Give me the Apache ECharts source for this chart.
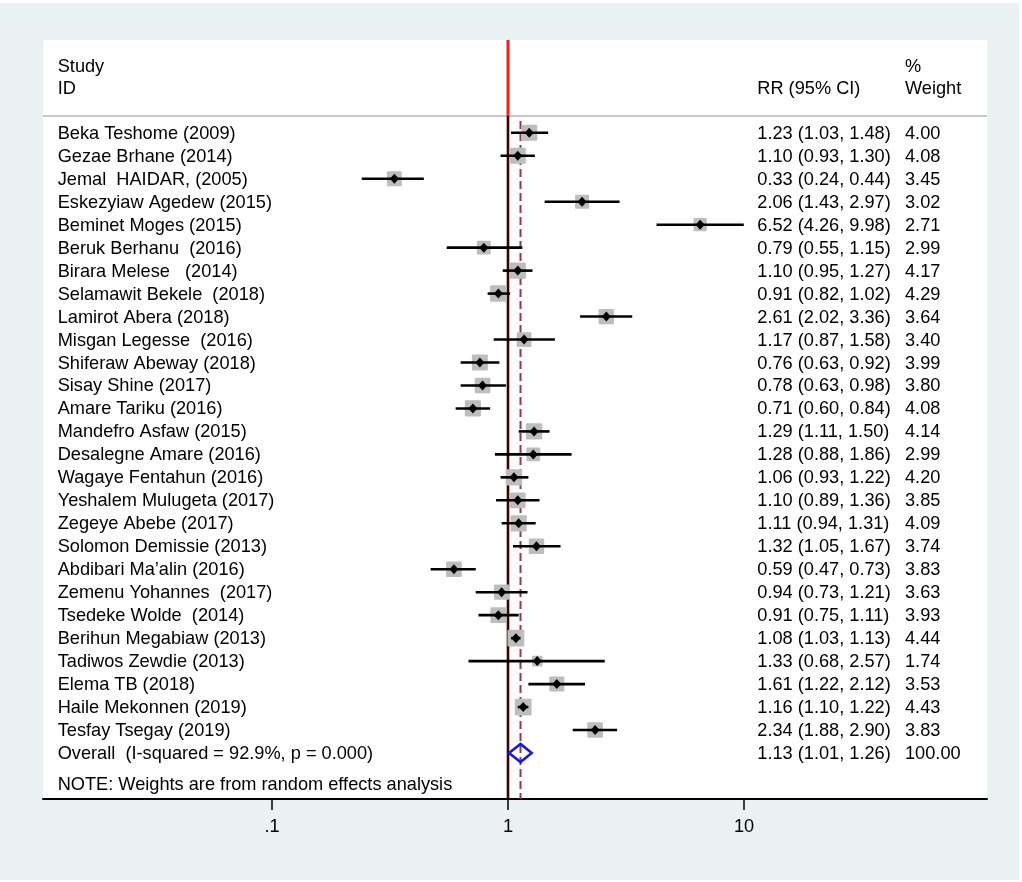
<!DOCTYPE html>
<html>
<head>
<meta charset="utf-8">
<script src="https://cdn.jsdelivr.net/npm/echarts@6/dist/echarts.min.js"></script>
<style>
html,body{margin:0;padding:0;background:#ffffff;}
#c{position:absolute;left:0;top:3px;width:1019px;height:877px;background:#e9f1f3;}
</style>
</head>
<body>
<div id="c"></div>
<script>
// ---------------- data ----------------
const studyNames = [
  "Beka Teshome (2009)",
  "Gezae Brhane (2014)",
  "Jemal  HAIDAR, (2005)",
  "Eskezyiaw Agedew (2015)",
  "Beminet Moges (2015)",
  "Beruk Berhanu  (2016)",
  "Birara Melese   (2014)",
  "Selamawit Bekele  (2018)",
  "Lamirot Abera (2018)",
  "Misgan Legesse  (2016)",
  "Shiferaw Abeway (2018)",
  "Sisay Shine (2017)",
  "Amare Tariku (2016)",
  "Mandefro Asfaw (2015)",
  "Desalegne Amare (2016)",
  "Wagaye Fentahun (2016)",
  "Yeshalem Mulugeta (2017)",
  "Zegeye Abebe (2017)",
  "Solomon Demissie (2013)",
  "Abdibari Ma\u2019alin (2016)",
  "Zemenu Yohannes  (2017)",
  "Tsedeke Wolde  (2014)",
  "Berihun Megabiaw (2013)",
  "Tadiwos Zewdie (2013)",
  "Elema TB (2018)",
  "Haile Mekonnen (2019)",
  "Tesfay Tsegay (2019)"
];
const rrValues = [1.23,1.10,0.33,2.06,6.52,0.79,1.10,0.91,2.61,1.17,0.76,0.78,0.71,1.29,1.28,1.06,1.10,1.11,1.32,0.59,0.94,0.91,1.08,1.33,1.61,1.16,2.34];
const ciLower  = [1.03,0.93,0.24,1.43,4.26,0.55,0.95,0.82,2.02,0.87,0.63,0.63,0.60,1.11,0.88,0.93,0.89,0.94,1.05,0.47,0.73,0.75,1.03,0.68,1.22,1.10,1.88];
const ciUpper  = [1.48,1.30,0.44,2.97,9.98,1.15,1.27,1.02,3.36,1.58,0.92,0.98,0.84,1.50,1.86,1.22,1.36,1.31,1.67,0.73,1.21,1.11,1.13,2.57,2.12,1.22,2.90];
const weightPct = [4.00,4.08,3.45,3.02,2.71,2.99,4.17,4.29,3.64,3.40,3.99,3.80,4.08,4.14,2.99,4.20,3.85,4.09,3.74,3.83,3.63,3.93,4.44,1.74,3.53,4.43,3.83];

const overallLabel = "Overall  (I-squared = 92.9%, p = 0.000)";
const overallValues = [1.13, 1.01, 1.26];   // RR, lower, upper
const overallWeight = 100.00;

const tickValues = [0.1, 1, 10];
const tickLabels = [".1", "1", "10"];

const headerStudy = ["Study", "ID"];
const headerRR = "RR (95% CI)";
const headerWeight = ["%", "Weight"];
const noteText = "NOTE: Weights are from random effects analysis";

// ---------------- helpers ----------------
const FONT = '"Liberation Sans", Arial, Helvetica, sans-serif';
const FS = 18.2;
const lg = v => Math.log10(v);
const fmt = v => v.toFixed(2);
function txt(x, y, s) {
  return {type:'text', x:x, y:y, silent:true,
    style:{text:s, fill:'#000', fontSize:FS, fontFamily:FONT, align:'left', verticalAlign:'middle'}};
}
const COL_NAME = 14.7, COL_RR = 714.3, COL_W = 862;

const studyData = rrValues.map((v, i) => [lg(v), i, lg(ciLower[i]), lg(ciUpper[i]), weightPct[i]]);
const overallRow = studyNames.length;
const overallData = [[lg(overallValues[0]), overallRow, lg(overallValues[1]), lg(overallValues[2])]];

function renderStudy(params, api) {
  const i = params.dataIndex;
  const cs = params.coordSys;
  const y = api.coord([0, api.value(1)])[1];
  const xp = api.coord([api.value(0), 0])[0];
  const xl = api.coord([api.value(2), 0])[0];
  const xh = api.coord([api.value(3), 0])[0];
  const s = 8 * Math.sqrt(api.value(4));
  return {type:'group', children:[
    {type:'rect', shape:{x:xp - s/2, y:y - s/2, width:s, height:s, r:1}, style:{fill:'#bdbdbd'}},
    {type:'line', shape:{x1:xl, y1:y, x2:xh, y2:y}, style:{stroke:'#000', lineWidth:2.6}},
    {type:'polygon', shape:{points:[[xp, y-5],[xp+4.5, y],[xp, y+5],[xp-4.5, y]]}, style:{fill:'#000'}},
    txt(cs.x + COL_NAME, y + 1, studyNames[i]),
    txt(cs.x + COL_RR, y + 1, fmt(rrValues[i]) + ' (' + fmt(ciLower[i]) + ', ' + fmt(ciUpper[i]) + ')'),
    txt(cs.x + COL_W, y + 1, fmt(weightPct[i]))
  ]};
}

function renderOverall(params, api) {
  const cs = params.coordSys;
  const y = api.coord([0, api.value(1)])[1];
  const xp = api.coord([api.value(0), 0])[0];
  const xl = api.coord([api.value(2), 0])[0];
  const xh = api.coord([api.value(3), 0])[0];
  const h = 9;
  return {type:'group', children:[
    {type:'polygon', shape:{points:[[xl, y],[xp, y-h],[xh, y],[xp, y+h]]},
      style:{fill:'none', stroke:'#1a1ad6', lineWidth:2.6, lineJoin:'miter'}},
    txt(cs.x + COL_NAME, y + 1, overallLabel),
    txt(cs.x + COL_RR, y + 1, fmt(overallValues[0]) + ' (' + fmt(overallValues[1]) + ', ' + fmt(overallValues[2]) + ')'),
    txt(cs.x + COL_W, y + 1, overallWeight.toFixed(2))
  ]};
}

function renderFrame(params, api) {
  const cs = params.coordSys;
  const top = cs.y, bottom = cs.y + cs.height;
  const ySep = api.coord([0, -0.731])[1];
  const yH1 = api.coord([0, -2.886])[1];
  const yH2 = api.coord([0, -1.92])[1];
  const yNote = api.coord([0, overallRow + 1.40])[1];
  const xNull = api.coord([lg(1), 0])[0];
  const xOv = api.coord([lg(overallValues[0]), 0])[0];
  return {type:'group', children:[
    {type:'line', shape:{x1:cs.x, y1:ySep, x2:cs.x + cs.width, y2:ySep}, style:{stroke:'#b4b4b4', lineWidth:1.5}},
    {type:'line', shape:{x1:xNull, y1:top, x2:xNull, y2:ySep}, style:{stroke:'#ff1a1a', lineWidth:3}},
    {type:'line', shape:{x1:xNull, y1:ySep, x2:xNull, y2:bottom}, style:{stroke:'#3f0000', lineWidth:2.6}},
    {type:'line', shape:{x1:xOv, y1:ySep + 5, x2:xOv, y2:bottom}, style:{stroke:'#93394f', lineWidth:2, lineDash:[8,4]}},
    txt(cs.x + COL_NAME, yH1, headerStudy[0]),
    txt(cs.x + COL_NAME, yH2, headerStudy[1]),
    txt(cs.x + COL_RR, yH2, headerRR),
    txt(cs.x + COL_W, yH1, headerWeight[0]),
    txt(cs.x + COL_W, yH2, headerWeight[1]),
    txt(cs.x + COL_NAME, yNote, noteText)
  ]};
}

// ---------------- chart ----------------
const chart = echarts.init(document.getElementById('c'), null, {renderer:'canvas'});
const tickExp = tickValues.map(lg);
chart.setOption({
  backgroundColor: 'transparent',
  animation: false,
  grid: {left:43, top:37, width:944, height:759, show:true, backgroundColor:'#ffffff', borderWidth:0, containLabel:false},
  xAxis: {
    type:'value', min:-1.9703, max:2.0297,
    splitLine:{show:false},
    axisLine:{show:true, onZero:false, lineStyle:{color:'#000', width:2}},
    axisTick:{show:true, customValues:tickExp, length:11, lineStyle:{color:'#000', width:1.5}},
    axisLabel:{show:true, customValues:tickExp, margin:19, color:'#000', fontSize:FS, fontFamily:FONT,
      formatter: function(v){ for (let k=0;k<tickExp.length;k++){ if (Math.abs(tickExp[k]-v)<1e-6) return tickLabels[k]; } return ''; }}
  },
  yAxis: {type:'value', inverse:true, min:-4.040, max:29.003, show:false},
  series: [
    {type:'custom', name:'frame', data:[[0,0]], renderItem:renderFrame, silent:true, z:1},
    {type:'custom', name:'studies', data:studyData, encode:{x:0, y:1}, renderItem:renderStudy, silent:true, z:3},
    {type:'custom', name:'overall', data:overallData, encode:{x:0, y:1}, renderItem:renderOverall, silent:true, z:3}
  ]
});
</script>
</body>
</html>
